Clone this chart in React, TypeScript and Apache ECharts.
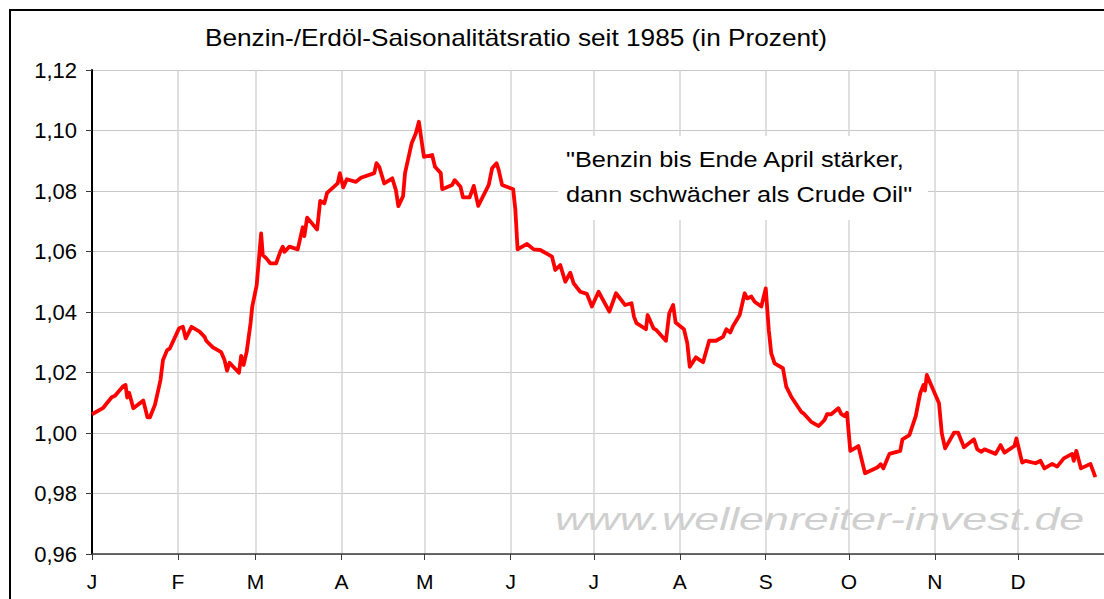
import React, { useEffect, useRef } from "react";
import * as echarts from "echarts";

// Day of year (0 = 1 Jan) and seasonal ratio
const days: number[] = [
  0, 3.9, 7.1, 8.3, 11.3, 12.1, 12.7, 13.4, 14.9, 18.5, 20.0, 20.9, 22.7, 24.7, 25.6, 27.1, 28.1,
  31.4, 32.8, 33.8, 35.9, 38.8, 40.6, 41.2, 43.6, 46.6, 47.8, 48.7, 49.6, 53.0, 53.8, 54.7, 55.8,
  57.2, 57.8, 59.4, 61.0, 61.6, 62.8, 64.3, 66.4, 67.9, 68.8, 69.4, 71.2, 74.2, 76.0, 76.6, 77.6,
  81.2, 82.3, 83.8, 84.8, 88.6, 89.4, 90.6, 91.9, 95.2, 97.0, 101.8, 102.6, 103.6, 105.4, 108.3,
  109.6, 110.5, 112.2, 112.9, 115.3, 116.8, 117.9, 119.7, 122.7, 123.7, 125.8, 126.3, 129.9, 130.8,
  132.9, 133.8, 136.2, 137.7, 139.3, 143.1, 144.3, 145.9, 146.7, 147.9, 151.9, 152.7, 153.5, 156.9,
  159.3, 161.7, 165.9, 167.1, 168.9, 170.7, 172.5, 173.7, 176.1, 178.5, 180.3, 182.7, 186.6, 189.0,
  192.3, 194.6, 195.5, 196.4, 199.8, 200.4, 202.5, 203.6, 207.0, 208.2, 209.6, 210.5, 213.5, 214.7,
  215.6, 217.8, 220.4, 222.6, 225.0, 227.6, 228.8, 230.2, 231.2, 233.6, 235.4, 236.3, 237.8, 239.0,
  241.4, 243.0, 244.1, 245.0, 246.2, 249.2, 250.4, 252.2, 255.8, 256.6, 259.4, 262.1, 264.2, 265.1,
  266.6, 269.2, 270.2, 271.4, 272.3, 273.5, 276.4, 278.8, 283.4, 284.5, 285.4, 287.6, 291.5, 292.3,
  294.8, 297.1, 298.7, 299.9, 300.4, 301.1, 305.5, 306.5, 307.7, 310.9, 312.4, 314.5, 318.1, 319.3,
  320.8, 321.9, 325.9, 327.7, 329.1, 332.7, 333.4, 335.5, 336.7, 340.3, 342.1, 343.5, 346.3, 348.1,
  350.5, 353.5, 354.1, 355.0, 356.7, 360.1, 361.9,
];
const ratio: number[] = [
  1.0062, 1.0082, 1.0118, 1.0123, 1.0155, 1.0159, 1.0117, 1.0133, 1.0082, 1.0107, 1.0052, 1.0052,
  1.0093, 1.0175, 1.0241, 1.0274, 1.028, 1.0346, 1.0351, 1.0313, 1.0351, 1.0335, 1.0318, 1.0305,
  1.0283, 1.0267, 1.0241, 1.0206, 1.0232, 1.0199, 1.0255, 1.0225, 1.0269, 1.0364, 1.0418, 1.0489,
  1.066, 1.0588, 1.0578, 1.0561, 1.0561, 1.0599, 1.0616, 1.0599, 1.0616, 1.0607, 1.068, 1.0651,
  1.0712, 1.0673, 1.0767, 1.0759, 1.0794, 1.0825, 1.0859, 1.0812, 1.0839, 1.083, 1.0844, 1.0859,
  1.0892, 1.088, 1.0825, 1.0842, 1.0803, 1.075, 1.0783, 1.0859, 1.0958, 1.0991, 1.1029, 1.0913,
  1.0919, 1.088, 1.0859, 1.0806, 1.082, 1.0836, 1.0814, 1.0779, 1.0779, 1.0817, 1.0751, 1.082,
  1.0875, 1.0892, 1.0869, 1.082, 1.0806, 1.0737, 1.0607, 1.0625, 1.0607, 1.0605, 1.0583, 1.0539,
  1.0555, 1.05, 1.053, 1.0495, 1.0467, 1.046, 1.0418, 1.0467, 1.0401, 1.0462, 1.0423, 1.0429,
  1.0384, 1.0363, 1.0343, 1.039, 1.0346, 1.034, 1.0305, 1.0396, 1.0423, 1.0365, 1.0343, 1.0297,
  1.0219, 1.025, 1.0234, 1.0305, 1.0305, 1.0318, 1.0343, 1.0332, 1.0354, 1.039, 1.0462, 1.0445,
  1.0451, 1.0434, 1.0418, 1.0478, 1.034, 1.0263, 1.023, 1.0214, 1.0153, 1.012, 1.007, 1.0065,
  1.0037, 1.0023, 1.0043, 1.0062, 1.0062, 1.0082, 1.0063, 1.0056, 1.0067, 0.9941, 0.9957, 0.9867,
  0.9887, 0.9897, 0.9883, 0.9931, 0.9941, 0.9979, 0.9993, 1.0056, 1.0131, 1.0159, 1.014, 1.0192,
  1.0098, 0.9999, 0.9949, 1.0001, 1.0001, 0.9953, 0.9979, 0.9946, 0.9938, 0.9946, 0.9931, 0.996,
  0.9935, 0.9957, 0.9982, 0.9902, 0.9908, 0.99, 0.9908, 0.9883, 0.9898, 0.9889, 0.9916, 0.9931,
  0.9908, 0.9941, 0.9883, 0.9898, 0.9854,
];

const monthStarts: number[] = [0, 31, 59, 90, 120, 151, 181, 212, 243, 273, 304, 334];
const monthLabels: string[] = ["J", "F", "M", "A", "M", "J", "J", "A", "S", "O", "N", "D"];

const titleText = "Benzin-/Erdöl-Saisonalitätsratio seit 1985 (in Prozent)";
const noteLines: string[] = ['"Benzin bis Ende April stärker,', 'dann schwächer als Crude Oil"'];
const watermark = "www.wellenreiter-invest.de";

const FONT = "'Liberation Sans', Arial, sans-serif";

export default function App() {
  const ref = useRef<HTMLDivElement>(null);
  useEffect(() => {
    if (!ref.current) return;
    const chart = echarts.init(ref.current, undefined, { renderer: "svg" });
    const data = days.map((d, i) => [d, ratio[i]]);
    chart.setOption({
      animation: false,
      backgroundColor: "#ffffff",
      textStyle: { fontFamily: FONT },
      grid: { left: 92, top: 70, width: 1015, height: 484, containLabel: false },
      xAxis: {
        type: "value",
        min: 0,
        max: 365,
        axisLine: { show: true, lineStyle: { color: "#3a3a3a", width: 1.5 } },
        axisTick: {
          show: true,
          customValues: monthStarts,
          length: 6,
          lineStyle: { color: "#3a3a3a", width: 1 },
        },
        axisLabel: {
          customValues: monthStarts,
          margin: 17,
          fontSize: 21,
          color: "#000",
          fontFamily: FONT,
          formatter: (v: number) => {
            const i = monthStarts.indexOf(Math.round(v));
            return i >= 0 ? monthLabels[i] : "";
          },
        },
        splitLine: { show: true, lineStyle: { color: "#d4d4d4", width: 1.5 } },
      },
      yAxis: {
        type: "value",
        min: 0.96,
        max: 1.12,
        interval: 0.02,
        axisLine: { show: true, lineStyle: { color: "#000", width: 2 } },
        axisTick: { show: true, length: 6, lineStyle: { color: "#3a3a3a", width: 1 } },
        axisLabel: {
          margin: 15,
          fontSize: 22,
          color: "#000",
          fontFamily: FONT,
          formatter: (v: number) => v.toFixed(2).replace(".", ","),
        },
        splitLine: { show: true, lineStyle: { color: "#c8c8c8", width: 1 } },
      },
      graphic: [
        {
          type: "rect",
          z: 100,
          silent: true,
          shape: { x: 10, y: 10, width: 1200, height: 700 },
          style: { fill: "none", stroke: "#000", lineWidth: 2 },
        },
        {
          type: "text",
          z: 100,
          x: 516,
          y: 38,
          scaleX: 1.14,
          style: {
            text: titleText,
            fontSize: 23,
            fontFamily: FONT,
            fill: "#000",
            textAlign: "center",
            textVerticalAlign: "middle",
          },
        },
        {
          type: "rect",
          z: 50,
          shape: { x: 558, y: 136, width: 370, height: 84 },
          style: { fill: "#ffffff", stroke: "none" },
        },
        {
          type: "text",
          z: 60,
          x: 566,
          y: 160,
          scaleX: 1.15,
          style: {
            text: noteLines[0],
            fontSize: 22,
            fontFamily: FONT,
            fill: "#000",
            textAlign: "left",
            textVerticalAlign: "middle",
          },
        },
        {
          type: "text",
          z: 60,
          x: 566,
          y: 195,
          scaleX: 1.15,
          style: {
            text: noteLines[1],
            fontSize: 22,
            fontFamily: FONT,
            fill: "#000",
            textAlign: "left",
            textVerticalAlign: "middle",
          },
        },
        {
          type: "text",
          z: 60,
          x: 555,
          y: 519,
          scaleX: 1.4,
          style: {
            text: watermark,
            fontSize: 32,
            fontStyle: "italic",
            fontFamily: FONT,
            fill: "#cfcfcf",
            textAlign: "left",
            textVerticalAlign: "middle",
          },
        },
      ],
      series: [
        {
          type: "line",
          data,
          showSymbol: false,
          symbol: "none",
          z: 10,
          lineStyle: { color: "#ff0000", width: 3.8, join: "round" },
          clip: false,
        },
      ],
    });
    return () => chart.dispose();
  }, []);
  return (
    <div
      ref={ref}
      style={{ position: "fixed", left: 0, top: 0, width: 1104, height: 599 }}
    />
  );
}
